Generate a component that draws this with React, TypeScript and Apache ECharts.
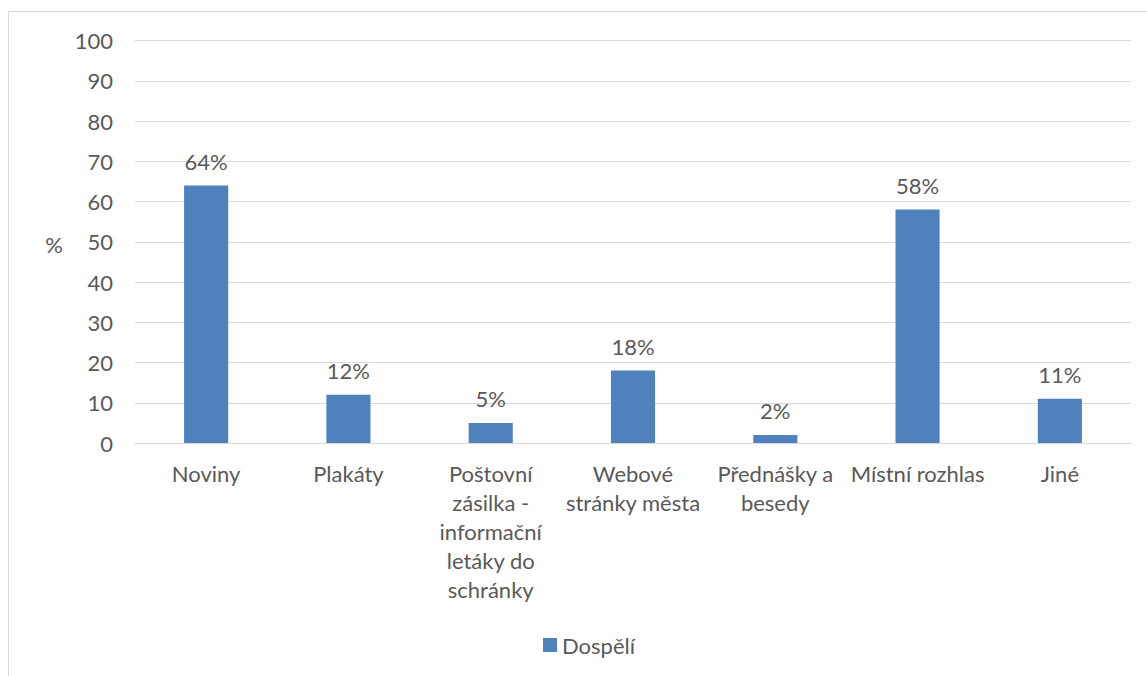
import React, { useEffect, useRef } from "react";
import * as echarts from "echarts";

const categories = [
  "Noviny",
  "Plakáty",
  "Poštovní\nzásilka -\ninformační\nletáky do\nschránky",
  "Webové\nstránky města",
  "Přednášky a\nbesedy",
  "Místní rozhlas",
  "Jiné",
];
const seriesName = "Dospělí";
const values = [64, 12, 5, 18, 2, 58, 11];
const yTicks = { min: 0, max: 100, interval: 10 };

const FONT = "Lato, 'Open Sans', sans-serif";
const TEXT = "#595959";
const FS = 22;

export default function App() {
  const ref = useRef<HTMLDivElement>(null);
  useEffect(() => {
    if (!ref.current) return;
    const chart = echarts.init(ref.current, null, { renderer: "svg" });
    chart.setOption({
      animation: false,
      backgroundColor: "#ffffff",
      textStyle: { fontFamily: FONT },
      grid: { left: 135, right: 16, top: 40.5, bottom: 233, containLabel: false },
      graphic: [
        {
          type: "rect",
          shape: { x: 8.5, y: 11.5, width: 1160, height: 700 },
          style: { fill: "none", stroke: "#D9D9D9", lineWidth: 1 },
          silent: true,
        },
        {
          type: "text",
          x: 54,
          y: 244,
          style: {
            text: "%",
            fill: TEXT,
            font: `${FS}px ${FONT}`,
            textAlign: "center",
            textVerticalAlign: "middle",
          },
        },
      ],
      legend: {
        data: [seriesName],
        left: 543,
        top: 634,
        icon: "rect",
        itemWidth: 14,
        itemHeight: 14,
        itemGap: 10,
        textStyle: { color: TEXT, fontSize: FS, fontFamily: FONT, padding: [0, 0, 0, 0] },
        padding: 0,
      },
      xAxis: {
        type: "category",
        data: categories,
        axisLine: { show: true, lineStyle: { color: "#D9D9D9", width: 1 } },
        axisTick: { show: false },
        axisLabel: {
          interval: 0,
          color: TEXT,
          fontSize: FS,
          fontFamily: FONT,
          lineHeight: 29,
          margin: 16,
          verticalAlign: "top",
        },
      },
      yAxis: {
        type: "value",
        min: yTicks.min,
        max: yTicks.max,
        interval: yTicks.interval,
        axisLine: { show: false },
        axisTick: { show: false },
        splitLine: { show: true, lineStyle: { color: "#D9D9D9", width: 1 } },
        axisLabel: { color: TEXT, fontSize: FS, fontFamily: FONT, margin: 22 },
      },
      series: [
        {
          name: seriesName,
          type: "bar",
          data: values,
          barWidth: "31%",
          itemStyle: { color: "#4F81BD" },
          label: {
            show: true,
            position: "top",
            distance: 13,
            color: TEXT,
            fontSize: FS,
            fontFamily: FONT,
            formatter: (p: any) => `${p.value}%`,
          },
        },
      ],
    });
    return () => chart.dispose();
  }, []);
  return (
    <div
      ref={ref}
      style={{ position: "fixed", left: 0, top: 0, width: 1147, height: 676 }}
    />
  );
}
